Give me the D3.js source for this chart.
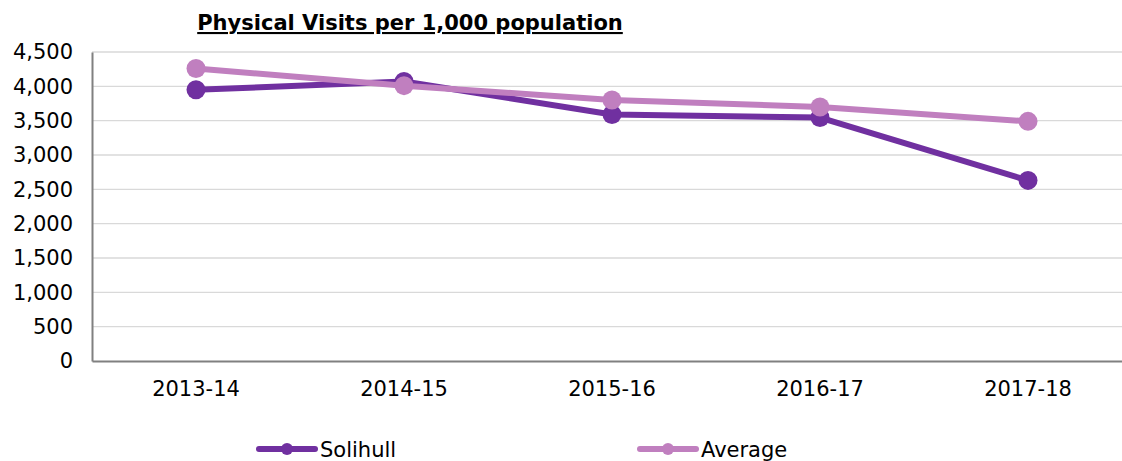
<!DOCTYPE html>
<html>
<head>
<meta charset="utf-8">
<script src="https://cdn.jsdelivr.net/npm/d3@7"></script>
<style>
  body { margin: 0; background: #fff; }
  text { font-family: Verdana, "DejaVu Sans", sans-serif; }
</style>
</head>
<body>
<div id="chart"></div>
<script>
const years = ["2013-14", "2014-15", "2015-16", "2016-17", "2017-18"];
const solihull = [3950, 4070, 3590, 3545, 2630];
const average = [4260, 4010, 3800, 3700, 3490];
const yTicks = [0, 500, 1000, 1500, 2000, 2500, 3000, 3500, 4000, 4500];

const W = 1122, H = 461;
const margin = { top: 52, right: -10, bottom: 100, left: 92 };
const width = W - margin.left - margin.right,
      height = H - margin.top - margin.bottom;

const svg = d3.select("#chart").append("svg")
    .attr("width", W).attr("height", H);

const g = svg.append("g").attr("transform", `translate(${margin.left},${margin.top})`);

const x = d3.scaleBand().domain(years).range([0, width]);
const y = d3.scaleLinear().domain([0, 4500]).range([height, 0]);

// gridlines
g.selectAll(".grid").data(yTicks.slice(1)).enter().append("line")
    .attr("x1", 0).attr("x2", width)
    .attr("y1", d => y(d)).attr("y2", d => y(d))
    .attr("stroke", "#d9d9d9").attr("stroke-width", 1.3);

// y axis
const yAxis = g.append("g")
    .call(d3.axisLeft(y).tickValues(yTicks).tickFormat(d3.format(",")).tickSize(0).tickPadding(19));
yAxis.select(".domain").attr("stroke", "#808080").attr("stroke-width", 2);
yAxis.selectAll("text").style("font-size", "21px").attr("fill", "#000").attr("font-family", "Verdana, DejaVu Sans, sans-serif");

// x axis
const xAxis = g.append("g").attr("transform", `translate(0,${height})`)
    .call(d3.axisBottom(x).tickSize(0).tickPadding(20));
xAxis.select(".domain").attr("stroke", "#808080").attr("stroke-width", 2);
xAxis.selectAll("text").style("font-size", "21px").attr("fill", "#000").attr("font-family", "Verdana, DejaVu Sans, sans-serif");

const series = [
    { name: "Solihull", values: solihull, color: "#7030a0" },
    { name: "Average", values: average, color: "#c07fbf" }
];

const line = d3.line().x((d, i) => x(years[i]) + x.bandwidth() / 2).y(d => y(d));

series.forEach(s => {
    g.append("path").datum(s.values)
        .attr("fill", "none").attr("stroke", s.color)
        .attr("stroke-width", 6).attr("stroke-linejoin", "round")
        .attr("d", line);
    g.selectAll(null).data(s.values).enter().append("circle")
        .attr("cx", (d, i) => x(years[i]) + x.bandwidth() / 2)
        .attr("cy", d => y(d))
        .attr("r", 9.5)
        .attr("fill", s.color);
});

// title
svg.append("text")
    .attr("x", 410).attr("y", 30)
    .attr("text-anchor", "middle")
    .style("font-size", "21px").style("font-weight", "bold")
    .style("text-decoration", "underline")
    .text("Physical Visits per 1,000 population");

// legend
const legendPos = [259, 640];
series.forEach((s, i) => {
    const lg = svg.append("g").attr("transform", `translate(${legendPos[i]},449)`);
    lg.append("line").attr("x1", 0).attr("x2", 56).attr("y1", 0).attr("y2", 0)
        .attr("stroke", s.color).attr("stroke-width", 6).attr("stroke-linecap", "round");
    lg.append("circle").attr("cx", 28).attr("cy", 0).attr("r", 6).attr("fill", s.color);
    lg.append("text").attr("x", 61).attr("y", 8)
        .style("font-size", "21px").text(s.name);
});
</script>
</body>
</html>
